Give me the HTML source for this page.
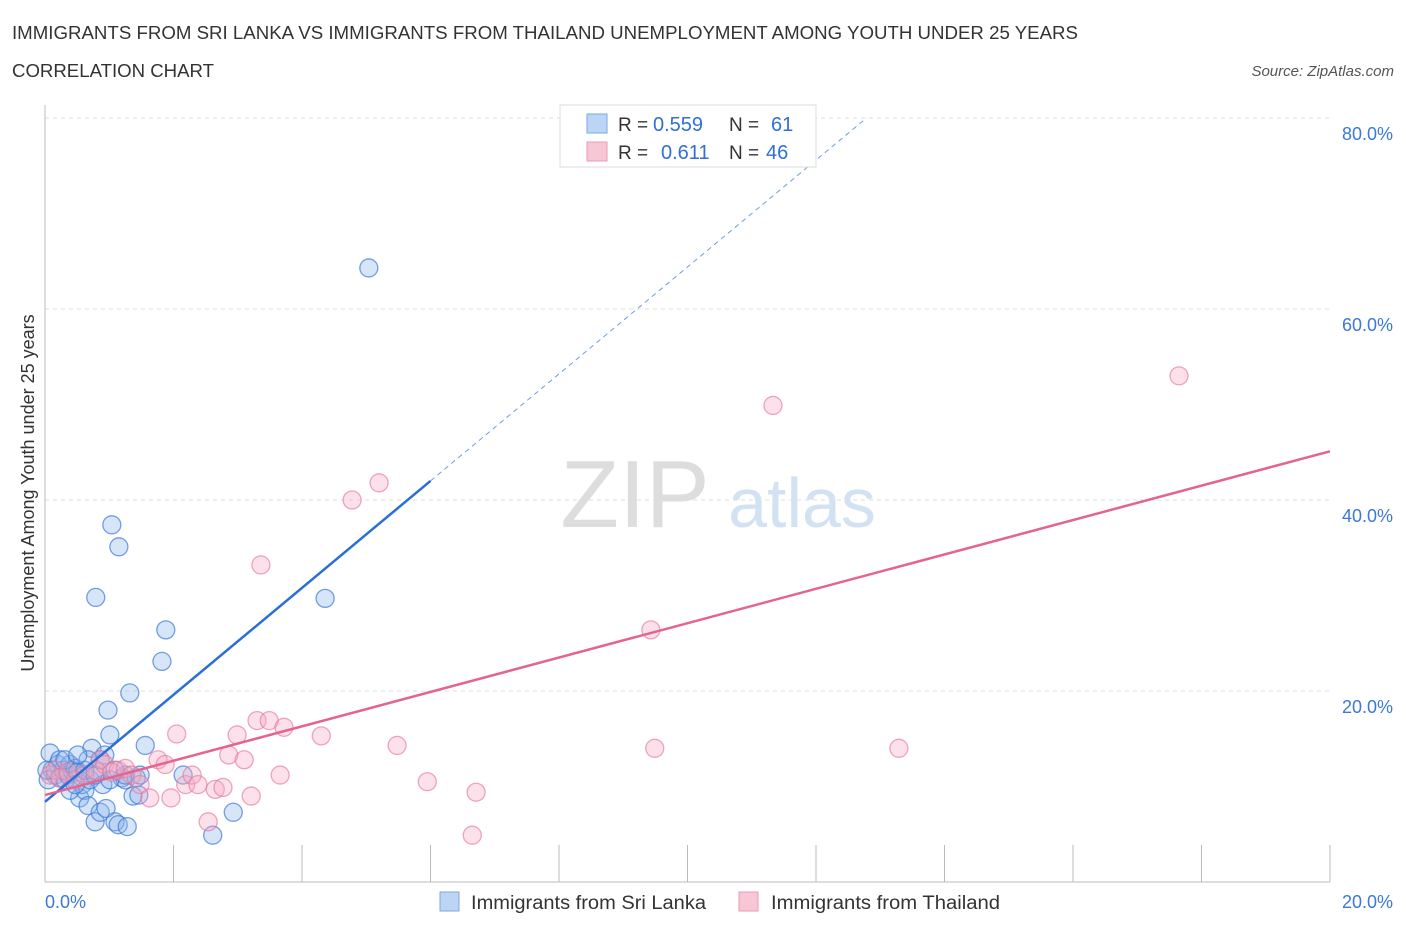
<!DOCTYPE html>
<html><head><meta charset="utf-8"><style>
body{margin:0;background:#fff;font-family:"Liberation Sans",sans-serif;}
svg text{font-family:"Liberation Sans",sans-serif;}
</style></head><body>
<svg id="c" width="1406" height="930" xmlns="http://www.w3.org/2000/svg">
<text x="12" y="39" font-size="18" fill="#333" textLength="1066" lengthAdjust="spacingAndGlyphs">IMMIGRANTS FROM SRI LANKA VS IMMIGRANTS FROM THAILAND UNEMPLOYMENT AMONG YOUTH UNDER 25 YEARS</text>
<text x="12" y="77" font-size="18" fill="#333" textLength="202" lengthAdjust="spacingAndGlyphs">CORRELATION CHART</text>
<text x="1394" y="76" font-size="15" fill="#555" font-style="italic" text-anchor="end">Source: ZipAtlas.com</text>
<text x="635" y="527" font-size="96" fill="#ddd" font-family="Liberation Serif" text-anchor="middle">ZIP</text>
<text x="802" y="527" font-size="70" fill="#d3e2f3" text-anchor="middle">atlas</text>
<text transform="translate(34,493) rotate(-90)" font-size="18" fill="#333" text-anchor="middle">Unemployment Among Youth under 25 years</text>
<g id="grid"></g><g id="marks"></g>
<g>
<rect x="560" y="105" width="256" height="62" fill="#fff" stroke="#ddd"/>
<rect x="587" y="114" width="20" height="19" fill="#bcd5f5" stroke="#7aa7e6"/>
<rect x="587" y="142" width="20" height="19" fill="#f8c7d6" stroke="#ec9ab5"/>
<text x="618" y="131" font-size="19" fill="#333">R =</text>
<text x="653" y="131" font-size="20" fill="#2f6fd6">0.559</text>
<text x="729" y="131" font-size="19" fill="#333">N =</text>
<text x="771" y="131" font-size="20" fill="#2f6fd6">61</text>
<text x="618" y="159" font-size="19" fill="#333">R =</text>
<text x="661" y="159" font-size="20" fill="#2f6fd6">0.611</text>
<text x="729" y="159" font-size="19" fill="#333">N =</text>
<text x="766" y="159" font-size="20" fill="#2f6fd6">46</text>
</g>
<g>
<rect x="440" y="892" width="19" height="19" fill="#bcd5f5" stroke="#7aa7e6"/>
<text x="471" y="909" font-size="19" fill="#333" textLength="235" lengthAdjust="spacingAndGlyphs">Immigrants from Sri Lanka</text>
<rect x="739" y="892" width="19" height="19" fill="#f8c7d6" stroke="#ec9ab5"/>
<text x="771" y="909" font-size="19" fill="#333" textLength="229" lengthAdjust="spacingAndGlyphs">Immigrants from Thailand</text>
</g>
</svg>
<script>
const xTicks=[0,20];
const yTicks=[20,40,60,80];
const blueX=[0.08,0.11,0.16,0.20,0.23,0.28,0.31,0.36,0.39,0.42,0.47,0.51,0.54,0.58,0.62,0.67,0.70,0.73,0.78,0.79,0.82,0.86,0.90,0.95,0.98,1.01,1.04,1.09,1.14,1.15,1.20,1.25,1.28,1.32,1.37,1.42,1.46,1.56,1.82,1.88,2.15,2.61,2.93,4.36,5.04,0.86,0.39,0.62,0.23,1.01,1.25,0.05,0.93,1.09,0.78,0.47,1.48,0.67,0.31,0.51,0.03];
const blueY=[13.5,11.7,11.2,12.3,10.9,11.7,10.7,11.2,12.3,11.7,11.9,11.5,8.8,10.2,9.6,8.0,10.7,14.0,6.3,29.8,11.5,7.3,10.2,7.7,18.0,15.4,37.4,6.3,6.0,35.1,10.9,10.7,5.8,19.8,9.0,10.9,9.1,14.3,23.1,26.4,11.2,4.9,7.3,29.7,64.3,12.8,9.6,11.7,12.8,10.7,11.2,10.7,13.3,11.7,11.2,10.2,11.2,12.8,12.8,13.3,11.7];
const pinkX=[0.08,0.16,0.23,0.36,0.47,0.62,0.78,0.86,0.93,1.04,1.14,1.25,1.35,1.48,1.63,1.76,1.87,1.96,2.05,2.19,2.29,2.38,2.54,2.65,2.77,2.86,2.99,3.10,3.21,3.30,3.36,3.49,3.66,3.72,4.30,4.78,5.20,5.48,5.95,6.65,6.71,9.43,9.49,11.33,13.29,17.65];
const pinkY=[11.2,11.7,10.9,11.5,10.7,11.2,11.7,12.8,12.3,11.5,11.7,11.9,11.2,10.2,8.8,12.8,12.3,8.8,15.5,10.2,11.2,10.2,6.3,9.7,9.9,13.3,15.4,12.8,9.0,16.9,33.2,16.9,11.2,16.2,15.3,40.0,41.8,14.3,10.5,4.9,9.4,26.4,14.0,49.9,14.0,53.0];
const blueTrend=[8.4,5.6];
const pinkTrend=[9.1,1.8];
const NS="http://www.w3.org/2000/svg";
const X=v=>45+v*(1285/20), Y=v=>882-v*(764/80);
function mk(t,a,p){const e=document.createElementNS(NS,t);for(const k in a)e.setAttribute(k,a[k]);p.appendChild(e);return e;}
const g=document.getElementById('grid'),m=document.getElementById('marks');
yTicks.forEach(t=>{const l=mk('line',{x1:45,x2:1330,y1:Y(t),y2:Y(t),stroke:'#ddd','stroke-dasharray':'4,4'},g);


const tx=mk('text',{x:1393,y:Y(t)+22,'font-size':18,fill:'#3b78d8','text-anchor':'end'},g);tx.textContent=t.toFixed(1)+'%';

});
mk('line',{x1:45,x2:45,y1:105,y2:882,stroke:'#bbb'},g);
mk('line',{x1:45,x2:1330,y1:882,y2:882,stroke:'#bbb'},g);
for(let i=1;i<=10;i++){const x=X(i*2);mk('line',{x1:x,x2:x,y1:845,y2:882,stroke:'#bbb'},g);}
xTicks.forEach((t,i)=>{const tx=mk('text',{x:i?1393:45,y:908,'font-size':18,fill:'#3b78d8','text-anchor':i?'end':'start'},g);tx.textContent=t.toFixed(1)+'%';

});
blueX.forEach((x,i)=>{const c=mk('circle',{cx:X(x),cy:Y(blueY[i]),r:9,fill:'rgba(140,180,235,0.35)',stroke:'rgba(60,120,215,0.7)','stroke-width':1.3},m);

});
pinkX.forEach((x,i)=>{const c=mk('circle',{cx:X(x),cy:Y(pinkY[i]),r:9,fill:'rgba(245,170,195,0.35)',stroke:'rgba(230,120,155,0.65)','stroke-width':1.3},m);

});
const bf=x=>blueTrend[0]+blueTrend[1]*x, pf=x=>pinkTrend[0]+pinkTrend[1]*x;
const xe=(80-blueTrend[0])/blueTrend[1];
let l=mk('line',{x1:X(0),y1:Y(bf(0)),x2:X(6),y2:Y(bf(6)),stroke:'#2a6fd6','stroke-width':2.5},m);


l=mk('line',{x1:X(6),y1:Y(bf(6)),x2:X(xe),y2:Y(80),stroke:'#6f9de0','stroke-width':1,'stroke-dasharray':'5,4'},m);


l=mk('line',{x1:X(0),y1:Y(pf(0)),x2:X(20),y2:Y(pf(20)),stroke:'#e4648e','stroke-width':2.5},m);


</script>
</body></html>
